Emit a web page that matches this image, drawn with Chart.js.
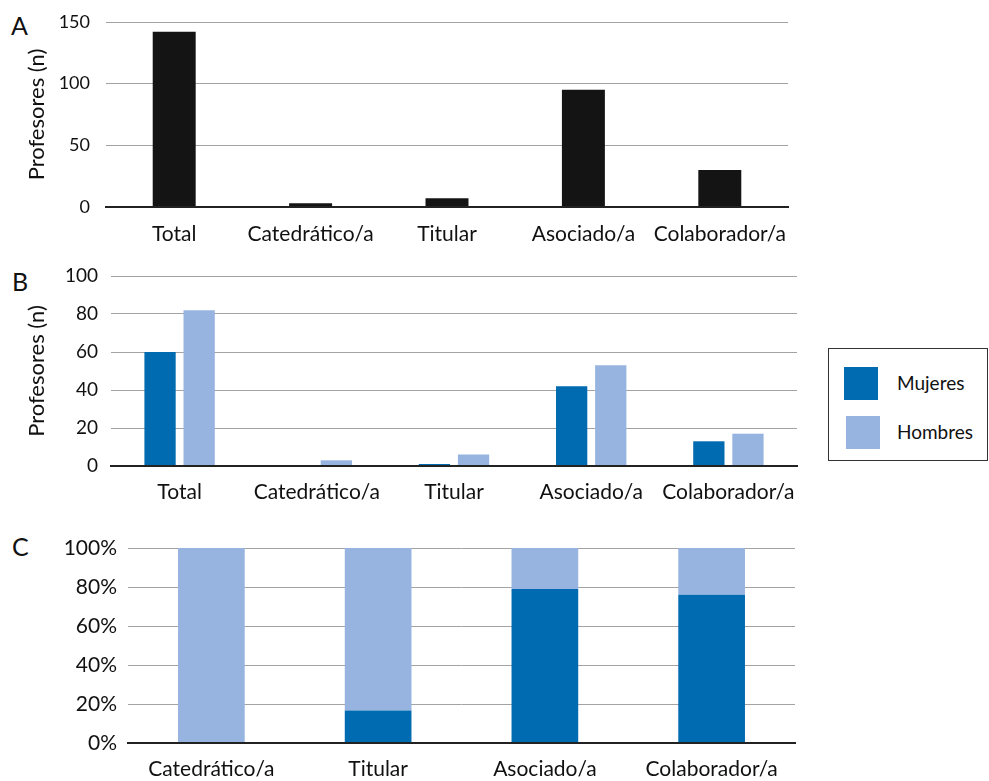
<!DOCTYPE html>
<html>
<head>
<meta charset="utf-8">
<script src="https://cdn.jsdelivr.net/npm/chart.js@4"></script>
<style>
  html, body { margin: 0; padding: 0; background: #fff; }
  body { width: 989px; height: 781px; position: relative; overflow: hidden; font-family: Lato, "Open Sans", sans-serif; color: #111; }
  .wrap { position: absolute; }
  .plabel { position: absolute; font-size: 25px; color: #111; }
  #legend { position: absolute; left: 828px; top: 348px; width: 160px; height: 113px; border: 1px solid #333; box-sizing: border-box; }
  .sw { position: absolute; width: 34px; height: 33px; }
  .lt { position: absolute; font-size: 19px; color: #111; }
</style>
</head>
<body>
<div class="plabel" style="left:11px; top:10px;">A</div>
<div class="plabel" style="left:12px; top:266px;">B</div>
<div class="plabel" style="left:12px; top:531px;">C</div>

<div class="wrap" style="left:0; top:0; width:800px; height:255px;"><canvas id="cA"></canvas></div>
<div class="wrap" style="left:0; top:255px; width:810px; height:255px;"><canvas id="cB"></canvas></div>
<div class="wrap" style="left:0; top:510px; width:810px; height:271px;"><canvas id="cC"></canvas></div>

<div id="legend">
  <div class="sw" style="left:15px; top:18px; background:#006BB0;"></div>
  <div class="lt" style="left:68px; top:22px;">Mujeres</div>
  <div class="sw" style="left:17px; top:67px; background:#97B3E0;"></div>
  <div class="lt" style="left:68px; top:71px;">Hombres</div>
</div>

<script>
// ---- Data ----
const categoriesA = ['Total', 'Catedrático/a', 'Titular', 'Asociado/a', 'Colaborador/a'];
const totalA = [142, 3, 7, 95, 30];

const categoriesB = ['Total', 'Catedrático/a', 'Titular', 'Asociado/a', 'Colaborador/a'];
const mujeresB = [60, 0, 1, 42, 13];
const hombresB = [82, 3, 6, 53, 17];

const categoriesC = ['Catedrático/a', 'Titular', 'Asociado/a', 'Colaborador/a'];
const mujeresC = [0, 16.7, 79, 76];
const hombresC = [100, 83.3, 21, 24];

const seriesNames = ['Mujeres', 'Hombres'];

// ---- Styles ----
const COL_M = '#006BB0';
const COL_H = '#97B3E0';
const COL_T = '#141414';
const FAM = 'Lato, "Open Sans", sans-serif';
const XFONT = { family: FAM, size: 21 };

Chart.defaults.font.family = FAM;
Chart.defaults.color = '#111';

function yScale(max, step, yWidth, tickPad, fontSize, suffix) {
  return {
    min: 0, max: max,
    ticks: { stepSize: step, padding: tickPad, font: { family: FAM, size: fontSize }, color: '#111',
             callback: v => v + (suffix || '') },
    grid: { drawTicks: false,
            color: ctx => ctx.tick && ctx.tick.value === 0 ? '#222' : '#a3a3a3',
            lineWidth: ctx => ctx.tick && ctx.tick.value === 0 ? 2 : 1 },
    border: { display: false },
    afterFit: s => { s.width = yWidth; s.paddingTop = 0; s.paddingBottom = 0; }
  };
}
function xScale(h, pad, stacked) {
  return {
    stacked: !!stacked,
    ticks: { padding: pad, font: XFONT, color: '#111', maxRotation: 0, autoSkip: false },
    grid: { display: false, drawTicks: false },
    border: { display: true, color: '#222', width: 2 },
    afterFit: s => { s.height = h; s.paddingLeft = 0; s.paddingRight = 0; }
  };
}
function yTitle() {
  return { display: true, text: 'Profesores (n)', font: { family: FAM, size: 22 }, color: '#111', padding: { top: 24, bottom: 0 } };
}
const common = {
  responsive: true, maintainAspectRatio: false, animation: false, devicePixelRatio: 1,
  plugins: { legend: { display: false }, tooltip: { enabled: false } }
};

// ---- Panel A ----
new Chart(document.getElementById('cA'), {
  type: 'bar',
  data: { labels: categoriesA, datasets: [{ data: totalA, backgroundColor: COL_T,
          categoryPercentage: 0.35, barPercentage: 0.9 }] },
  options: Object.assign({}, common, {
    layout: { padding: { top: 22, right: 12, left: 0, bottom: 0 } },
    scales: {
      x: xScale(48, 15),
      y: Object.assign(yScale(150, 50, 106, 16, 18), { title: yTitle() })
    }
  })
});

// ---- Panel B ----
new Chart(document.getElementById('cB'), {
  type: 'bar',
  data: { labels: categoriesB, datasets: [
    { label: seriesNames[0], data: mujeresB, backgroundColor: COL_M, categoryPercentage: 0.57, barPercentage: 0.8 },
    { label: seriesNames[1], data: hombresB, backgroundColor: COL_H, categoryPercentage: 0.57, barPercentage: 0.8 }
  ] },
  options: Object.assign({}, common, {
    layout: { padding: { top: 21, right: 13, left: 0, bottom: 0 } },
    scales: {
      x: xScale(44, 14),
      y: Object.assign(yScale(100, 20, 111, 13, 19), { title: yTitle() })
    }
  })
});

// ---- Panel C ----
new Chart(document.getElementById('cC'), {
  type: 'bar',
  data: { labels: categoriesC, datasets: [
    { label: seriesNames[0], data: mujeresC, backgroundColor: COL_M, categoryPercentage: 0.4, barPercentage: 1.0 },
    { label: seriesNames[1], data: hombresC, backgroundColor: COL_H, categoryPercentage: 0.4, barPercentage: 1.0 }
  ] },
  options: Object.assign({}, common, {
    layout: { padding: { top: 38, right: 15, left: 0, bottom: 0 } },
    scales: {
      x: xScale(38, 14, true),
      y: Object.assign(yScale(100, 20, 128, 11, 21, '%'), { stacked: true })
    }
  })
});
</script>
</body>
</html>
